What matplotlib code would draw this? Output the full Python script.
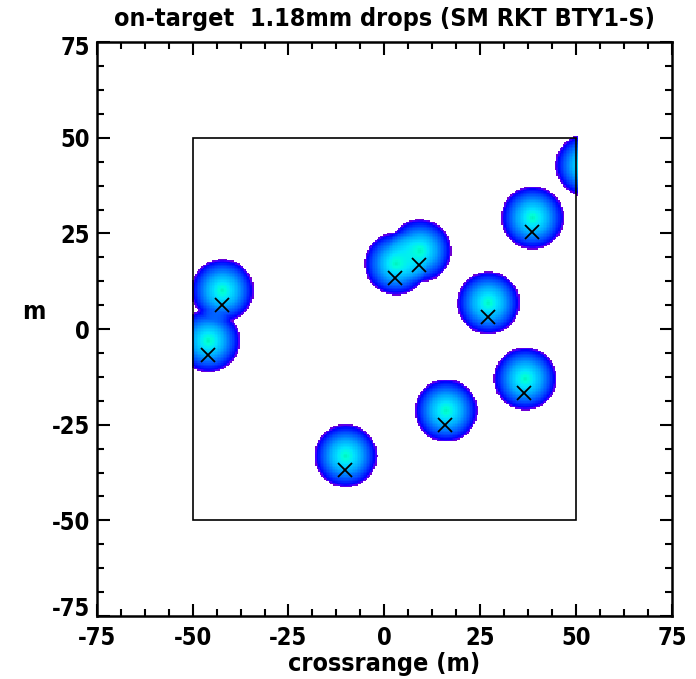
import numpy as np
import matplotlib.pyplot as plt
import matplotlib.transforms as mtransforms
from matplotlib.colors import LinearSegmentedColormap
from matplotlib.ticker import MultipleLocator

plt.rcParams['font.family'] = ['DejaVu Sans']
plt.rcParams['font.stretch'] = 'condensed'
plt.rcParams['font.weight'] = 'bold'
plt.rcParams['axes.unicode_minus'] = False

# impact points (X markers), crossrange / range in m
drop_x = [-42.3, -45.9, 2.9, 9.1, 26.9, 38.4, 52.5, 36.5, 15.9, -10.2]
drop_y = [6.3, -6.8, 13.3, 16.7, 3.1, 25.3, 39.0, -16.7, -25.0, -36.8]
# footprint centre sits a little above the impact point
shift_y = 3.6
radius = 8.2
target = [-50, 50, -50, 50]

cmap = LinearSegmentedColormap.from_list('drops', [
    (0.00, (0.45, 0.0, 0.80)),
    (0.04, (0.30, 0.0, 1.0)),
    (0.08, (0.0, 0.0, 1.0)),
    (0.25, (0.0, 0.30, 1.0)),
    (0.50, (0.0, 0.65, 1.0)),
    (0.75, (0.0, 0.90, 1.0)),
    (0.90, (0.0, 1.0, 0.85)),
    (1.00, (0.0, 0.95, 0.75)),
])

gx = np.arange(target[0], target[1] + 0.01, 0.4)
gy = np.arange(target[2], target[3] + 0.01, 0.4)
GX, GY = np.meshgrid(gx, gy)
miss = np.ones_like(GX)
for x0, y0 in zip(drop_x, drop_y):
    r = np.hypot(GX - x0, GY - (y0 + shift_y))
    miss *= 1 - np.clip(1 - r / radius, 0, 1)
val = np.ma.masked_less_equal(1 - miss, 0)

fig = plt.figure(figsize=(6.96, 6.79), dpi=100)
ax = fig.add_axes([0.139, 0.0928, 0.8265, 0.845])
ax.imshow(val, extent=[gx[0] - 0.2, gx[-1] + 0.2, gy[0] - 0.2, gy[-1] + 0.2],
          origin='lower', cmap=cmap, vmin=0, vmax=1, interpolation='nearest',
          aspect='auto', zorder=1)

box = plt.Rectangle((target[0], target[2]), target[1] - target[0], target[3] - target[2],
                    fill=False, ec='black', lw=1.2, zorder=3)
ax.add_patch(box)

inside = [(x, y) for x, y in zip(drop_x, drop_y)
          if target[0] <= x <= target[1] and target[2] <= y <= target[3]]
ax.plot([p[0] for p in inside], [p[1] for p in inside], 'x', color='black',
        ms=10, mew=1.3, zorder=4)

ax.set_xlim(-75, 75)
ax.set_ylim(-75, 75)
ax.set_xticks([-75, -50, -25, 0, 25, 50, 75])
ax.set_yticks([-75, -50, -25, 0, 25, 50, 75])
ax.xaxis.set_minor_locator(MultipleLocator(6.25))
ax.yaxis.set_minor_locator(MultipleLocator(6.25))
ax.tick_params(which='both', direction='in', top=True, right=True,
               labelsize=17, width=1.5)
ax.tick_params(axis='x', pad=7)
ax.tick_params(axis='y', pad=5)
ax.tick_params(which='major', length=9)
ax.tick_params(which='minor', length=5)
for s in ax.spines.values():
    s.set_linewidth(1.8)

ax.set_title('on-target  1.18mm drops (SM RKT BTY1-S)', fontsize=18,
             fontweight='bold', pad=12)
ax.set_xlabel('crossrange (m)', fontsize=18, fontweight='bold', labelpad=2)
ax.set_ylabel('m', fontsize=18, fontweight='bold', rotation=0, va='center')
ax.yaxis.set_label_coords(-0.11, 0.53)

# end labels on the y axis sit a little inside the frame
ylabels = ax.get_yticklabels()
ylabels[0].set_transform(ylabels[0].get_transform() +
                         mtransforms.ScaledTranslation(0, 0.09, fig.dpi_scale_trans))
ylabels[-1].set_transform(ylabels[-1].get_transform() +
                          mtransforms.ScaledTranslation(0, -0.03, fig.dpi_scale_trans))

fig.savefig('out.png', dpi=100)
